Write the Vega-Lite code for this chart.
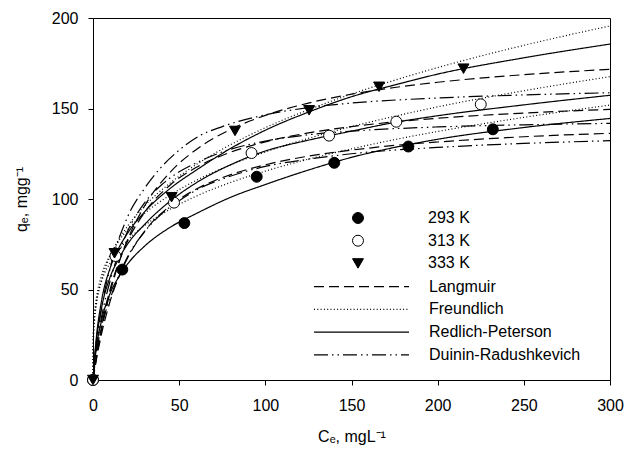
{
"$schema":"https://vega.github.io/schema/vega-lite/v6.json",
"width":517,"height":362,
"autosize":{"type":"none"},
"padding":{"left":93,"top":18,"right":15,"bottom":72},
"config":{
"font":"Liberation Sans",
"view":{"stroke":"black","strokeWidth":1},
"axis":{"grid":false,"labelFlush":false,"domainColor":"black","domainWidth":1,"tickColor":"black","tickWidth":1,"tickSize":5,"labelColor":"black","titleColor":"black","labelFont":"Liberation Sans","titleFont":"Liberation Sans","labelFontSize":16,"titleFontSize":16,"titleFontWeight":"normal"},
"legend":{"labelFont":"Liberation Sans","labelFontSize":16,"labelColor":"black","padding":0}
},
"datasets":{
"pts":[
{"temp":"293 K","C":0,"q":0},{"temp":"293 K","C":17,"q":61},{"temp":"293 K","C":53,"q":86.7},{"temp":"293 K","C":95,"q":112.3},{"temp":"293 K","C":140,"q":120},{"temp":"293 K","C":183,"q":129},{"temp":"293 K","C":232,"q":138.5},
{"temp":"313 K","C":0,"q":0},{"temp":"313 K","C":13,"q":68.5},{"temp":"313 K","C":47,"q":98},{"temp":"313 K","C":92,"q":125.4},{"temp":"313 K","C":137,"q":135},{"temp":"313 K","C":176,"q":142.7},{"temp":"313 K","C":225,"q":152.3},
{"temp":"333 K","C":0,"q":0},{"temp":"333 K","C":12.5,"q":70},{"temp":"333 K","C":45.6,"q":101},{"temp":"333 K","C":82.4,"q":137.6},{"temp":"333 K","C":125.4,"q":149},{"temp":"333 K","C":166,"q":162},{"temp":"333 K","C":215,"q":172}
],
"curves":[
{"model":"Langmuir","temp":"293 K","C":0,"q":0},{"model":"Langmuir","temp":"293 K","C":2,"q":11.45},{"model":"Langmuir","temp":"293 K","C":5,"q":25.6},{"model":"Langmuir","temp":"293 K","C":10,"q":43.7},{"model":"Langmuir","temp":"293 K","C":15,"q":57},{"model":"Langmuir","temp":"293 K","C":20,"q":67.3},{"model":"Langmuir","temp":"293 K","C":30,"q":82.2},{"model":"Langmuir","temp":"293 K","C":45,"q":96.4},{"model":"Langmuir","temp":"293 K","C":60,"q":105.5},{"model":"Langmuir","temp":"293 K","C":80,"q":113.5},{"model":"Langmuir","temp":"293 K","C":100,"q":118.9},{"model":"Langmuir","temp":"293 K","C":125,"q":123.7},{"model":"Langmuir","temp":"293 K","C":150,"q":127},{"model":"Langmuir","temp":"293 K","C":175,"q":129.6},{"model":"Langmuir","temp":"293 K","C":200,"q":131.5},{"model":"Langmuir","temp":"293 K","C":250,"q":134.4},{"model":"Langmuir","temp":"293 K","C":300,"q":136.3},
{"model":"Langmuir","temp":"313 K","C":0,"q":0},{"model":"Langmuir","temp":"313 K","C":2,"q":13.4},{"model":"Langmuir","temp":"313 K","C":5,"q":29.8},{"model":"Langmuir","temp":"313 K","C":10,"q":50.3},{"model":"Langmuir","temp":"313 K","C":15,"q":65.2},{"model":"Langmuir","temp":"313 K","C":20,"q":76.6},{"model":"Langmuir","temp":"313 K","C":30,"q":92.7},{"model":"Langmuir","temp":"313 K","C":45,"q":107.9},{"model":"Langmuir","temp":"313 K","C":60,"q":117.5},{"model":"Langmuir","temp":"313 K","C":80,"q":125.9},{"model":"Langmuir","temp":"313 K","C":100,"q":131.6},{"model":"Langmuir","temp":"313 K","C":125,"q":136.5},{"model":"Langmuir","temp":"313 K","C":150,"q":140},{"model":"Langmuir","temp":"313 K","C":175,"q":142.6},{"model":"Langmuir","temp":"313 K","C":200,"q":144.6},{"model":"Langmuir","temp":"313 K","C":250,"q":147.5},{"model":"Langmuir","temp":"313 K","C":300,"q":149.5},
{"model":"Langmuir","temp":"333 K","C":0,"q":0},{"model":"Langmuir","temp":"333 K","C":2,"q":12.3},{"model":"Langmuir","temp":"333 K","C":5,"q":28},{"model":"Langmuir","temp":"333 K","C":10,"q":48.7},{"model":"Langmuir","temp":"333 K","C":15,"q":64.7},{"model":"Langmuir","temp":"333 K","C":20,"q":77.4},{"model":"Langmuir","temp":"333 K","C":30,"q":96.3},{"model":"Langmuir","temp":"333 K","C":45,"q":115},{"model":"Langmuir","temp":"333 K","C":60,"q":127.4},{"model":"Langmuir","temp":"333 K","C":80,"q":138.5},{"model":"Langmuir","temp":"333 K","C":100,"q":146.2},{"model":"Langmuir","temp":"333 K","C":125,"q":153},{"model":"Langmuir","temp":"333 K","C":150,"q":157.9},{"model":"Langmuir","temp":"333 K","C":175,"q":161.6},{"model":"Langmuir","temp":"333 K","C":200,"q":164.5},{"model":"Langmuir","temp":"333 K","C":250,"q":168.7},{"model":"Langmuir","temp":"333 K","C":300,"q":171.65},
{"model":"Freundlich","temp":"293 K","C":0,"q":0},{"model":"Freundlich","temp":"293 K","C":0.1,"q":20.5},{"model":"Freundlich","temp":"293 K","C":0.5,"q":30.7},{"model":"Freundlich","temp":"293 K","C":1,"q":36.5},{"model":"Freundlich","temp":"293 K","C":2,"q":43.4},{"model":"Freundlich","temp":"293 K","C":5,"q":54.6},{"model":"Freundlich","temp":"293 K","C":10,"q":64.9},{"model":"Freundlich","temp":"293 K","C":15,"q":71.8},{"model":"Freundlich","temp":"293 K","C":20,"q":77.2},{"model":"Freundlich","temp":"293 K","C":30,"q":85.4},{"model":"Freundlich","temp":"293 K","C":45,"q":94.5},{"model":"Freundlich","temp":"293 K","C":60,"q":101.6},{"model":"Freundlich","temp":"293 K","C":80,"q":109.2},{"model":"Freundlich","temp":"293 K","C":100,"q":115.4},{"model":"Freundlich","temp":"293 K","C":125,"q":122},{"model":"Freundlich","temp":"293 K","C":150,"q":127.7},{"model":"Freundlich","temp":"293 K","C":175,"q":132.8},{"model":"Freundlich","temp":"293 K","C":200,"q":137.3},{"model":"Freundlich","temp":"293 K","C":250,"q":145.1},{"model":"Freundlich","temp":"293 K","C":300,"q":151.9},
{"model":"Freundlich","temp":"313 K","C":0,"q":0},{"model":"Freundlich","temp":"313 K","C":0.1,"q":20.9},{"model":"Freundlich","temp":"313 K","C":0.5,"q":31.8},{"model":"Freundlich","temp":"313 K","C":1,"q":38},{"model":"Freundlich","temp":"313 K","C":2,"q":45.5},{"model":"Freundlich","temp":"313 K","C":5,"q":57.8},{"model":"Freundlich","temp":"313 K","C":10,"q":69.2},{"model":"Freundlich","temp":"313 K","C":15,"q":76.9},{"model":"Freundlich","temp":"313 K","C":20,"q":82.9},{"model":"Freundlich","temp":"313 K","C":30,"q":92.1},{"model":"Freundlich","temp":"313 K","C":45,"q":102.3},{"model":"Freundlich","temp":"313 K","C":60,"q":110.3},{"model":"Freundlich","temp":"313 K","C":80,"q":118.9},{"model":"Freundlich","temp":"313 K","C":100,"q":126},{"model":"Freundlich","temp":"313 K","C":125,"q":133.5},{"model":"Freundlich","temp":"313 K","C":150,"q":140},{"model":"Freundlich","temp":"313 K","C":175,"q":145.7},{"model":"Freundlich","temp":"313 K","C":200,"q":150.9},{"model":"Freundlich","temp":"313 K","C":250,"q":159.8},{"model":"Freundlich","temp":"313 K","C":300,"q":167.6},
{"model":"Freundlich","temp":"333 K","C":0,"q":0},{"model":"Freundlich","temp":"333 K","C":0.1,"q":16.6},{"model":"Freundlich","temp":"333 K","C":0.5,"q":27.3},{"model":"Freundlich","temp":"333 K","C":1,"q":33.75},{"model":"Freundlich","temp":"333 K","C":2,"q":41.8},{"model":"Freundlich","temp":"333 K","C":5,"q":55.4},{"model":"Freundlich","temp":"333 K","C":10,"q":68.6},{"model":"Freundlich","temp":"333 K","C":15,"q":77.7},{"model":"Freundlich","temp":"333 K","C":20,"q":84.9},{"model":"Freundlich","temp":"333 K","C":30,"q":96.2},{"model":"Freundlich","temp":"333 K","C":45,"q":109},{"model":"Freundlich","temp":"333 K","C":60,"q":119.1},{"model":"Freundlich","temp":"333 K","C":80,"q":130.1},{"model":"Freundlich","temp":"333 K","C":100,"q":139.4},{"model":"Freundlich","temp":"333 K","C":125,"q":149.3},{"model":"Freundlich","temp":"333 K","C":150,"q":158},{"model":"Freundlich","temp":"333 K","C":175,"q":165.6},{"model":"Freundlich","temp":"333 K","C":200,"q":172.6},{"model":"Freundlich","temp":"333 K","C":250,"q":184.9},{"model":"Freundlich","temp":"333 K","C":300,"q":195.6},
{"model":"Redlich-Peterson","temp":"293 K","C":0,"q":0},{"model":"Redlich-Peterson","temp":"293 K","C":1,"q":10},{"model":"Redlich-Peterson","temp":"293 K","C":2,"q":18},{"model":"Redlich-Peterson","temp":"293 K","C":5,"q":33},{"model":"Redlich-Peterson","temp":"293 K","C":10,"q":48},{"model":"Redlich-Peterson","temp":"293 K","C":15,"q":57},{"model":"Redlich-Peterson","temp":"293 K","C":20,"q":64},{"model":"Redlich-Peterson","temp":"293 K","C":30,"q":74},{"model":"Redlich-Peterson","temp":"293 K","C":45,"q":84.5},{"model":"Redlich-Peterson","temp":"293 K","C":60,"q":92},{"model":"Redlich-Peterson","temp":"293 K","C":80,"q":101},{"model":"Redlich-Peterson","temp":"293 K","C":100,"q":108},{"model":"Redlich-Peterson","temp":"293 K","C":125,"q":116},{"model":"Redlich-Peterson","temp":"293 K","C":150,"q":123},{"model":"Redlich-Peterson","temp":"293 K","C":175,"q":128.5},{"model":"Redlich-Peterson","temp":"293 K","C":200,"q":133},{"model":"Redlich-Peterson","temp":"293 K","C":250,"q":139.5},{"model":"Redlich-Peterson","temp":"293 K","C":300,"q":144.5},
{"model":"Redlich-Peterson","temp":"313 K","C":0,"q":0},{"model":"Redlich-Peterson","temp":"313 K","C":1,"q":12.5},{"model":"Redlich-Peterson","temp":"313 K","C":2,"q":22},{"model":"Redlich-Peterson","temp":"313 K","C":5,"q":40},{"model":"Redlich-Peterson","temp":"313 K","C":10,"q":57},{"model":"Redlich-Peterson","temp":"313 K","C":15,"q":67},{"model":"Redlich-Peterson","temp":"313 K","C":20,"q":75},{"model":"Redlich-Peterson","temp":"313 K","C":30,"q":86},{"model":"Redlich-Peterson","temp":"313 K","C":45,"q":99},{"model":"Redlich-Peterson","temp":"313 K","C":60,"q":109},{"model":"Redlich-Peterson","temp":"313 K","C":80,"q":119},{"model":"Redlich-Peterson","temp":"313 K","C":100,"q":126.5},{"model":"Redlich-Peterson","temp":"313 K","C":125,"q":132.5},{"model":"Redlich-Peterson","temp":"313 K","C":150,"q":137.5},{"model":"Redlich-Peterson","temp":"313 K","C":175,"q":142.3},{"model":"Redlich-Peterson","temp":"313 K","C":200,"q":146},{"model":"Redlich-Peterson","temp":"313 K","C":250,"q":152},{"model":"Redlich-Peterson","temp":"313 K","C":300,"q":157.3},
{"model":"Redlich-Peterson","temp":"333 K","C":0,"q":0},{"model":"Redlich-Peterson","temp":"333 K","C":1,"q":13.5},{"model":"Redlich-Peterson","temp":"333 K","C":2,"q":24},{"model":"Redlich-Peterson","temp":"333 K","C":5,"q":44},{"model":"Redlich-Peterson","temp":"333 K","C":10,"q":62},{"model":"Redlich-Peterson","temp":"333 K","C":15,"q":73},{"model":"Redlich-Peterson","temp":"333 K","C":20,"q":81},{"model":"Redlich-Peterson","temp":"333 K","C":30,"q":93},{"model":"Redlich-Peterson","temp":"333 K","C":45,"q":106},{"model":"Redlich-Peterson","temp":"333 K","C":60,"q":116},{"model":"Redlich-Peterson","temp":"333 K","C":80,"q":128},{"model":"Redlich-Peterson","temp":"333 K","C":100,"q":138},{"model":"Redlich-Peterson","temp":"333 K","C":125,"q":148},{"model":"Redlich-Peterson","temp":"333 K","C":150,"q":156.5},{"model":"Redlich-Peterson","temp":"333 K","C":175,"q":163},{"model":"Redlich-Peterson","temp":"333 K","C":200,"q":169},{"model":"Redlich-Peterson","temp":"333 K","C":250,"q":178},{"model":"Redlich-Peterson","temp":"333 K","C":300,"q":185.6},
{"model":"Duinin-Radushkevich","temp":"293 K","C":0,"q":0},{"model":"Duinin-Radushkevich","temp":"293 K","C":2,"q":15},{"model":"Duinin-Radushkevich","temp":"293 K","C":5,"q":30},{"model":"Duinin-Radushkevich","temp":"293 K","C":10,"q":45},{"model":"Duinin-Radushkevich","temp":"293 K","C":20,"q":68},{"model":"Duinin-Radushkevich","temp":"293 K","C":30,"q":82},{"model":"Duinin-Radushkevich","temp":"293 K","C":40,"q":92},{"model":"Duinin-Radushkevich","temp":"293 K","C":50,"q":99},{"model":"Duinin-Radushkevich","temp":"293 K","C":60,"q":105},{"model":"Duinin-Radushkevich","temp":"293 K","C":75,"q":111},{"model":"Duinin-Radushkevich","temp":"293 K","C":100,"q":118},{"model":"Duinin-Radushkevich","temp":"293 K","C":125,"q":122},{"model":"Duinin-Radushkevich","temp":"293 K","C":150,"q":125},{"model":"Duinin-Radushkevich","temp":"293 K","C":200,"q":128.5},{"model":"Duinin-Radushkevich","temp":"293 K","C":250,"q":130.7},{"model":"Duinin-Radushkevich","temp":"293 K","C":300,"q":132.2},
{"model":"Duinin-Radushkevich","temp":"313 K","C":0,"q":0},{"model":"Duinin-Radushkevich","temp":"313 K","C":2,"q":18},{"model":"Duinin-Radushkevich","temp":"313 K","C":5,"q":35},{"model":"Duinin-Radushkevich","temp":"313 K","C":10,"q":55},{"model":"Duinin-Radushkevich","temp":"313 K","C":20,"q":82},{"model":"Duinin-Radushkevich","temp":"313 K","C":30,"q":98},{"model":"Duinin-Radushkevich","temp":"313 K","C":40,"q":108},{"model":"Duinin-Radushkevich","temp":"313 K","C":50,"q":115},{"model":"Duinin-Radushkevich","temp":"313 K","C":60,"q":120},{"model":"Duinin-Radushkevich","temp":"313 K","C":75,"q":126},{"model":"Duinin-Radushkevich","temp":"313 K","C":100,"q":132},{"model":"Duinin-Radushkevich","temp":"313 K","C":125,"q":135.5},{"model":"Duinin-Radushkevich","temp":"313 K","C":150,"q":137.5},{"model":"Duinin-Radushkevich","temp":"313 K","C":200,"q":139.8},{"model":"Duinin-Radushkevich","temp":"313 K","C":250,"q":141},{"model":"Duinin-Radushkevich","temp":"313 K","C":300,"q":141.8},
{"model":"Duinin-Radushkevich","temp":"333 K","C":0,"q":0},{"model":"Duinin-Radushkevich","temp":"333 K","C":2,"q":20},{"model":"Duinin-Radushkevich","temp":"333 K","C":5,"q":40},{"model":"Duinin-Radushkevich","temp":"333 K","C":10,"q":62},{"model":"Duinin-Radushkevich","temp":"333 K","C":20,"q":90},{"model":"Duinin-Radushkevich","temp":"333 K","C":30,"q":106},{"model":"Duinin-Radushkevich","temp":"333 K","C":40,"q":118},{"model":"Duinin-Radushkevich","temp":"333 K","C":50,"q":127},{"model":"Duinin-Radushkevich","temp":"333 K","C":62,"q":135},{"model":"Duinin-Radushkevich","temp":"333 K","C":75,"q":140},{"model":"Duinin-Radushkevich","temp":"333 K","C":100,"q":146.5},{"model":"Duinin-Radushkevich","temp":"333 K","C":125,"q":150.5},{"model":"Duinin-Radushkevich","temp":"333 K","C":150,"q":153},{"model":"Duinin-Radushkevich","temp":"333 K","C":200,"q":155.8},{"model":"Duinin-Radushkevich","temp":"333 K","C":250,"q":157.5},{"model":"Duinin-Radushkevich","temp":"333 K","C":300,"q":158.7}
]
},
"layer":[
{
"data":{"name":"curves"},
"mark":{"type":"line","stroke":"black","strokeWidth":1.2,"interpolate":"monotone","clip":false},
"encoding":{
"x":{"field":"C","type":"quantitative","scale":{"domain":[0,300],"nice":false,"zero":false},"axis":{"title":"Cₑ, mgL⁻¹","values":[0,50,100,150,200,250,300],"labelPadding":12,"titlePadding":15}},
"y":{"field":"q","type":"quantitative","scale":{"domain":[0,200],"nice":false,"zero":false},"axis":{"title":"qₑ, mgg⁻¹","values":[0,50,100,150,200],"labelPadding":10,"titlePadding":22}},
"detail":{"field":"temp"},
"strokeDash":{"field":"model","type":"nominal",
"scale":{"domain":["Langmuir","Freundlich","Redlich-Peterson","Duinin-Radushkevich"],"range":[[10,5],[1,2.3],[1,0],[14,4,1.5,4,1.5,4]]},
"legend":{"title":null,"orient":"none","legendX":220,"legendY":260.7,"symbolType":"stroke","symbolSize":9025,"clipHeight":16,"labelOffset":19,"symbolStrokeColor":"black","symbolStrokeWidth":1.2,"rowPadding":6.7,"labelFontSize":16}}
}
},
{
"data":{"name":"pts"},
"mark":{"type":"point","filled":false,"strokeWidth":1,"size":120,"opacity":1,"clip":false},
"encoding":{
"x":{"field":"C","type":"quantitative"},
"y":{"field":"q","type":"quantitative"},
"shape":{"field":"temp","type":"nominal","scale":{"domain":["293 K","313 K","333 K"],"range":["circle","circle","triangle-down"]},
"legend":{"title":null,"orient":"none","legendX":257,"legendY":192,"labelOffset":62,"symbolSize":120,"symbolStrokeWidth":1,"rowPadding":6.7,"labelFontSize":16}},
"fill":{"field":"temp","type":"nominal","scale":{"domain":["293 K","313 K","333 K"],"range":["black","white","black"]},
"legend":{"title":null,"orient":"none","legendX":257,"legendY":192,"labelOffset":62,"symbolSize":120,"symbolStrokeWidth":1,"rowPadding":6.7,"labelFontSize":16}},
"stroke":{"field":"temp","type":"nominal","scale":{"domain":["293 K","313 K","333 K"],"range":["black","black","black"]},
"legend":{"title":null,"orient":"none","legendX":257,"legendY":192,"labelOffset":62,"symbolSize":120,"symbolStrokeWidth":1,"rowPadding":6.7,"labelFontSize":16}}
}
}
]
}
